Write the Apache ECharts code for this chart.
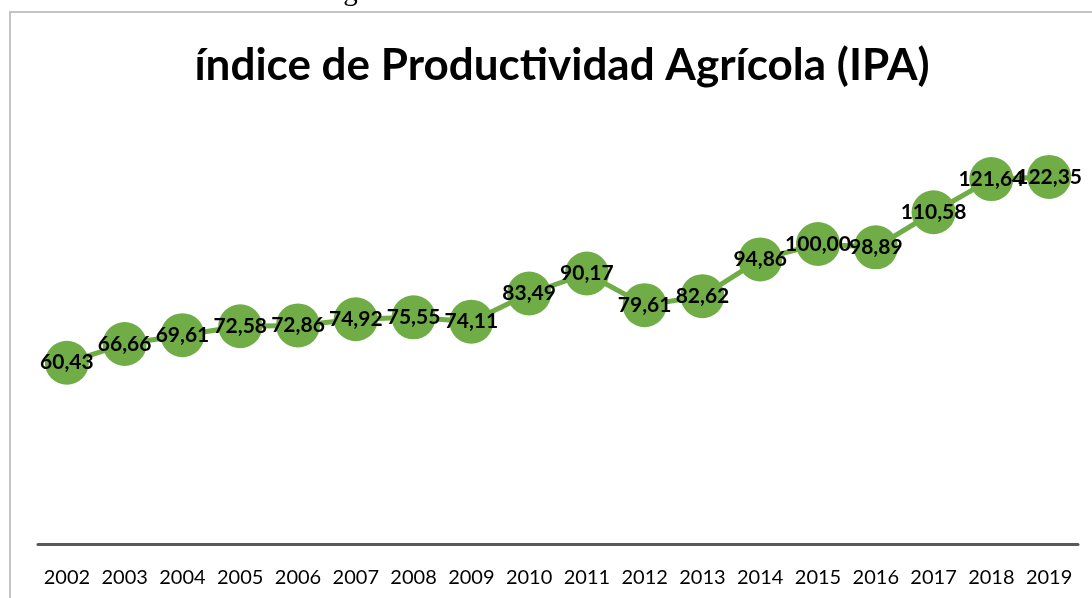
<!DOCTYPE html>
<html>
<head>
<meta charset="utf-8">
<script src="https://cdn.jsdelivr.net/npm/echarts@6/dist/echarts.min.js"></script>
<style>
html,body{margin:0;padding:0;background:#fff;}
#c{width:1092px;height:598px;}
</style>
</head>
<body>
<div id="c"></div>
<script>
const years = ['2002','2003','2004','2005','2006','2007','2008','2009','2010','2011','2012','2013','2014','2015','2016','2017','2018','2019'];
const ipa = [60.43,66.66,69.61,72.58,72.86,74.92,75.55,74.11,83.49,90.17,79.61,82.62,94.86,100.00,98.89,110.58,121.64,122.35];
const titleText = 'índice de Productividad Agrícola (IPA)';
const captionText = 'Índice de Productividad Agrícola';

const chart = echarts.init(document.getElementById('c'));
chart.setOption({
  animation: false,
  backgroundColor: '#fff',
  title: {
    text: titleText,
    left: 557,
    textAlign: 'center',
    top: 39,
    textStyle: {fontFamily: 'Lato', fontWeight: 'bold', fontSize: 44, color: '#000'}
  },
  graphic: [
    {type: 'rect', shape: {x: 10, y: 12, width: 1100, height: 600}, style: {fill: 'none', stroke: '#c4c4c4', lineWidth: 2}, silent: true},
    {type: 'text', left: 38, top: -22, style: {text: captionText, font: '29px "Liberation Serif"', fill: '#000'}, silent: true}
  ],
  grid: {left: 38, right: 14, top: 124, bottom: 54, containLabel: false},
  xAxis: {
    type: 'category',
    data: years,
    boundaryGap: true,
    axisLine: {show: true, lineStyle: {color: '#595959', width: 3}},
    axisTick: {show: false},
    axisLabel: {color: '#000', fontFamily: 'Lato', fontSize: 20, margin: 24, interval: 0}
  },
  yAxis: {
    type: 'value', min: 0, max: 140, interval: 20,
    show: false,
    splitLine: {show: false}
  },
  series: [{
    type: 'line',
    data: ipa,
    symbol: 'circle',
    symbolSize: 44,
    showAllSymbol: true,
    lineStyle: {color: '#70AD47', width: 5},
    itemStyle: {color: '#70AD47'},
    labelLayout: {hideOverlap: false},
    label: {
      show: true,
      position: 'inside',
      color: '#000',
      fontFamily: 'Lato',
      fontWeight: 'bold',
      fontSize: 21,
      formatter: p => p.value.toFixed(2).replace('.', ',')
    }
  }]
});
</script>
</body>
</html>
